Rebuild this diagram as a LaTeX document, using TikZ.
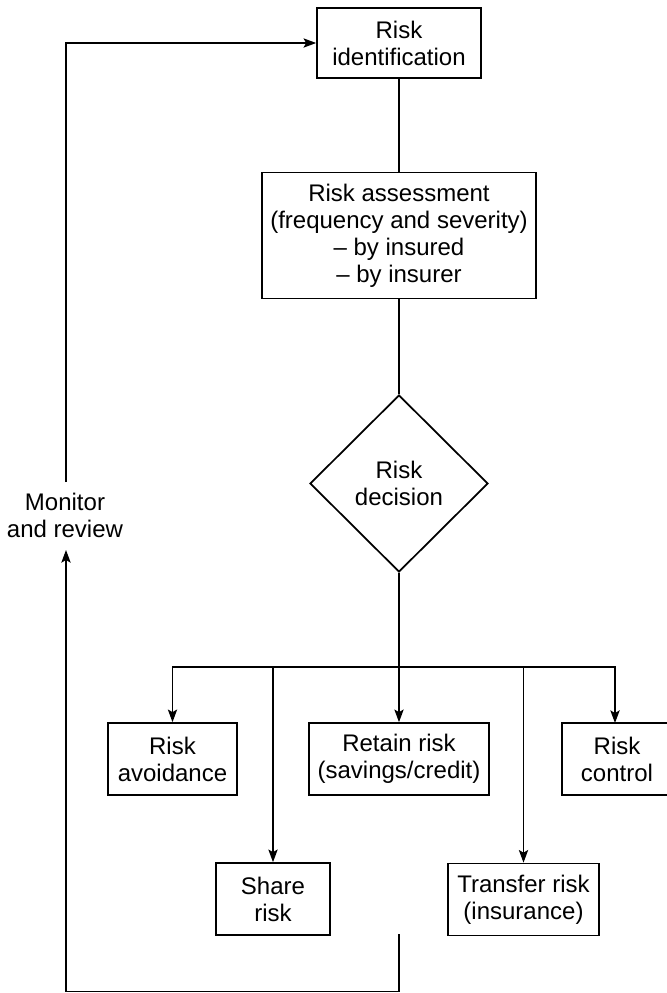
\documentclass[tikz,border=0pt]{standalone}
\usepackage{fontspec}
\setmainfont{Liberation Sans}
\usetikzlibrary{shapes.geometric,arrows.meta}

\begin{document}
\begin{tikzpicture}[x=0.75pt,y=-0.75pt,
  font=\fontsize{18pt}{20.25pt}\selectfont,
  box/.style={draw,line width=1.3pt,rectangle,align=center,inner sep=0pt,
              minimum height=54pt},
  decide/.style={draw,line width=1.3pt,diamond,align=center,inner sep=0pt},
  link/.style={line width=0.9pt},
  arr/.style={link,-{Stealth[length=9.5pt,width=7pt,inset=2pt]}},
  lbl/.style={align=center,inner sep=0pt}]

\useasboundingbox (0,0) rectangle (667,993);

% main column
\node[box,minimum width=123pt,minimum height=52.5pt] (ident) at (399,43)
  {Risk\\identification};
\node[box,minimum width=205.5pt,minimum height=94.5pt] (assess) at (399,235.5)
  {Risk assessment\\(frequency and severity)\\\textendash\ by insured\\\textendash\ by insurer};
\node[decide,minimum width=133.5pt,minimum height=132.75pt] (dec) at (399,483.5)
  {Risk\\decision};

% first row of options (the right-hand box runs off the edge)
\node[box,minimum width=96.75pt] (avoid) at (172.5,759) {Risk\\avoidance};
\node[box,minimum width=135pt] (retain) at (399,759) {Retain risk\\(savings/credit)};
\node[box,minimum width=82.5pt] (control) at (617,759) {Risk\\control};

% second row of options
\node[box,minimum width=85.5pt] (share) at (273,899) {Share\\risk};
\node[box,minimum width=113.25pt] (transfer) at (523.5,899.5) {Transfer risk\\(insurance)};

% feedback label
\node[lbl] (mon) at (65,515) {Monitor\\and review};

% connectors down the column
\draw[link] (ident) -- (assess);
\draw[link] (assess) -- (dec);
\coordinate (hub) at (399,667);
\draw[link] (dec.south) -- (hub);
\draw[arr] (hub) -- (retain.north);
\draw[arr] (hub) -| (avoid.north);
\coordinate (ctrltop) at (615,723);
\draw[arr] (hub) -| (ctrltop);
\draw[arr] (hub -| share.north) -- (share.north);
\draw[arr] (hub -| transfer.north) -- (transfer.north);

% monitor and review loop
\coordinate (loopstart) at (399,934);
\coordinate (botL) at (66,991.5);
\coordinate (tipup) at (66,550);
\coordinate (topstart) at (66,482);
\draw[arr] (loopstart) |- (botL) -- (tipup);
\draw[arr] (topstart) |- (ident.west);
\end{tikzpicture}
\end{document}
